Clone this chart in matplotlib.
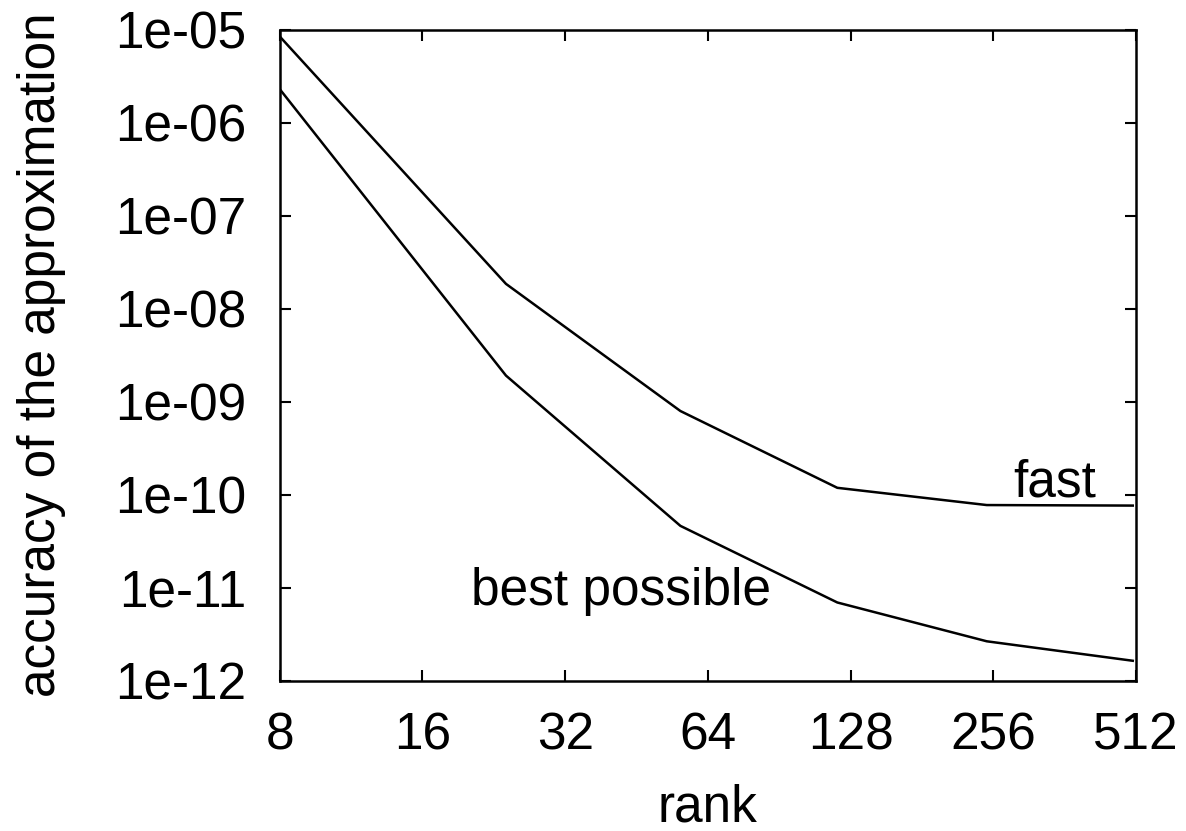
import matplotlib
matplotlib.use("Agg")
import matplotlib.pyplot as plt
from matplotlib.ticker import FixedLocator, FixedFormatter, NullLocator

plt.rcParams['font.family'] = ['Liberation Sans', 'DejaVu Sans']

rank = [8, 24, 56, 120, 248, 504]
fast = [8.4e-6, 1.84e-8, 7.9e-10, 1.18e-10, 7.7e-11, 7.6e-11]
best_possible = [2.28e-6, 1.9e-9, 4.6e-11, 6.9e-12, 2.64e-12, 1.63e-12]

x_ticks = [8, 16, 32, 64, 128, 256, 512]
x_labels = ['8', '16', '32', '64', '128', '256', '512']
y_ticks = [1e-12, 1e-11, 1e-10, 1e-9, 1e-8, 1e-7, 1e-6, 1e-5]
y_labels = ['1e-12', '1e-11', '1e-10', '1e-09', '1e-08', '1e-07', '1e-06', '1e-05']

W, H = 1186, 831
fig = plt.figure(figsize=(W / 100, H / 100), dpi=100)
ax = fig.add_axes([279.8 / W, 1 - 680.5 / H, (1136 - 279.8) / W, 651 / H])

ax.plot(rank, fast, color='black', lw=1.8)
ax.plot(rank, best_possible, color='black', lw=1.8)

ax.set_xscale('log', base=2)
ax.set_yscale('log')
ax.set_xlim(8, 512)
ax.set_ylim(1e-12, 1e-5)

ax.xaxis.set_major_locator(FixedLocator(x_ticks))
ax.xaxis.set_major_formatter(FixedFormatter(x_labels))
ax.xaxis.set_minor_locator(NullLocator())
ax.yaxis.set_major_locator(FixedLocator(y_ticks))
ax.yaxis.set_major_formatter(FixedFormatter(y_labels))
ax.yaxis.set_minor_locator(NullLocator())

fs = 37
ax.tick_params(axis='both', which='major', direction='in', length=8, width=1.5,
               top=True, right=True, labelsize=fs, color='black')
ax.tick_params(axis='x', pad=22)
ax.tick_params(axis='y', pad=24)
for s in ax.spines.values():
    s.set_linewidth(1.8)

ax.set_xlabel('rank', fontsize=fs)
ax.set_ylabel('accuracy of the approximation', fontsize=fs)
ax.yaxis.label.set_va('center')
ax.yaxis.set_label_coords((42 - 279.8) / 856.2, 0.5)
ax.xaxis.label.set_va('baseline')
ax.xaxis.set_label_coords(0.5, (680.5 - 822) / 651)

ax.text((1013 - 279.8) / 856.2, (680.5 - 496) / 651, 'fast', transform=ax.transAxes,
        fontsize=fs, ha='left', va='baseline')
ax.text((470.7 - 279.8) / 856.2, (680.5 - 605) / 651, 'best possible', transform=ax.transAxes,
        fontsize=fs, ha='left', va='baseline')

fig.savefig('out.png', dpi=100, facecolor='white')
